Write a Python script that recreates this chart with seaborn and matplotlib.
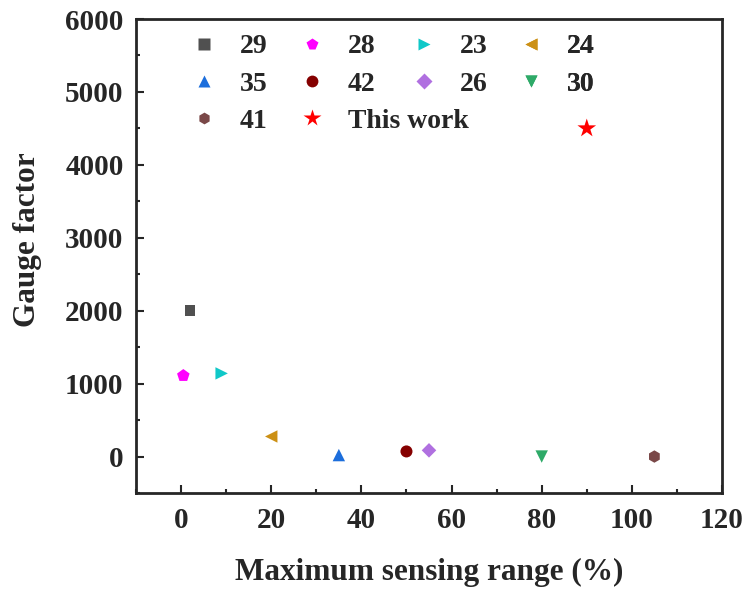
import matplotlib
matplotlib.use("Agg")
import matplotlib.pyplot as plt
import seaborn as sns
import pandas as pd
from matplotlib.ticker import MultipleLocator
from matplotlib.lines import Line2D

labels = ["29", "28", "23", "24", "35", "42", "26", "30", "41", "This work"]
sensing_range = [2, 0.5, 9, 20, 35, 50, 55, 80, 105, 90]
gauge_factor = [2000, 1110, 1140, 275, 20, 70, 85, 0, 0, 4500]
colors = ["#505050", "#FF00FF", "#10C8C8", "#CC9015", "#1C6EDC", "#850000",
          "#B070E0", "#2EAA68", "#7A4848", "#FF0000"]
markers = ["s", "p", ">", "<", "^", "o", "D", "v", "h", "*"]
sizes = [60, 90, 80, 80, 80, 75, 55, 80, 80, 200]

sns.set_style("ticks")
plt.rcParams["font.family"] = ["Liberation Serif", "DejaVu Serif"]
plt.rcParams["font.weight"] = "bold"

df = pd.DataFrame({"label": labels, "x": sensing_range, "y": gauge_factor})

W, H = 749, 592
fig = plt.figure(figsize=(W / 100, H / 100), dpi=100)
ax = fig.add_axes([136 / W, 1 - 493 / H, (722 - 136) / W, (493 - 19) / H])

for lab, col, mk, sz in zip(labels, colors, markers, sizes):
    sub = df[df["label"] == lab]
    sns.scatterplot(data=sub, x="x", y="y", color=col, marker=mk, s=sz,
                    edgecolor="none", linewidth=0, ax=ax, legend=False)

ax.set_xlim(-10, 120)
ax.set_ylim(-500, 6000)
ax.xaxis.set_major_locator(MultipleLocator(20))
ax.xaxis.set_minor_locator(MultipleLocator(10))
ax.yaxis.set_major_locator(MultipleLocator(1000))
ax.yaxis.set_minor_locator(MultipleLocator(500))
ax.tick_params(which="both", direction="in", top=False, right=False, width=1.5)
ax.tick_params(which="major", length=6, labelsize=21)
ax.tick_params(axis="y", which="major", pad=9)
ax.tick_params(axis="x", which="major", pad=10)
ax.tick_params(which="minor", length=3)
for lbl in ax.get_xticklabels() + ax.get_yticklabels():
    lbl.set_fontweight("bold")
for sp in ax.spines.values():
    sp.set_linewidth(2)
    sp.set_visible(True)

ax.set_xlabel("Maximum sensing range (%)", fontsize=22.5, fontweight="bold", labelpad=17)
ax.set_ylabel("Gauge factor", fontsize=22.5, fontweight="bold")
ax.yaxis.set_label_coords((42 - 136) / (722 - 136), (493 - 240) / (493 - 19))

# legend: four aligned columns
handles = []
for lab, col, mk in zip(labels, colors, markers):
    ms = 8.5 if mk != "*" else 13
    handles.append(Line2D([], [], linestyle="none", marker=mk, color=col,
                          markeredgecolor="none", markersize=ms, label=lab))
columns = [[0, 4, 8], [1, 5, 9], [2, 6], [3, 7]]
marker_x = [204, 312, 424, 531]
fs = 20
fs_px = fs * 100 / 72
top_px = 34
for col_idx, mx in zip(columns, marker_x):
    leg = ax.legend(handles=[handles[i] for i in col_idx],
                    labels=[labels[i] for i in col_idx],
                    loc="upper left",
                    bbox_to_anchor=((mx - 0.5 * fs_px) / W, 1 - top_px / H),
                    bbox_transform=fig.transFigure,
                    frameon=False, borderpad=0, borderaxespad=0,
                    handlelength=1.0, handletextpad=0.8, labelspacing=0.42,
                    prop={"family": "Liberation Serif", "weight": "bold", "size": fs})
    ax.add_artist(leg)

fig.savefig("out.png", dpi=100)
